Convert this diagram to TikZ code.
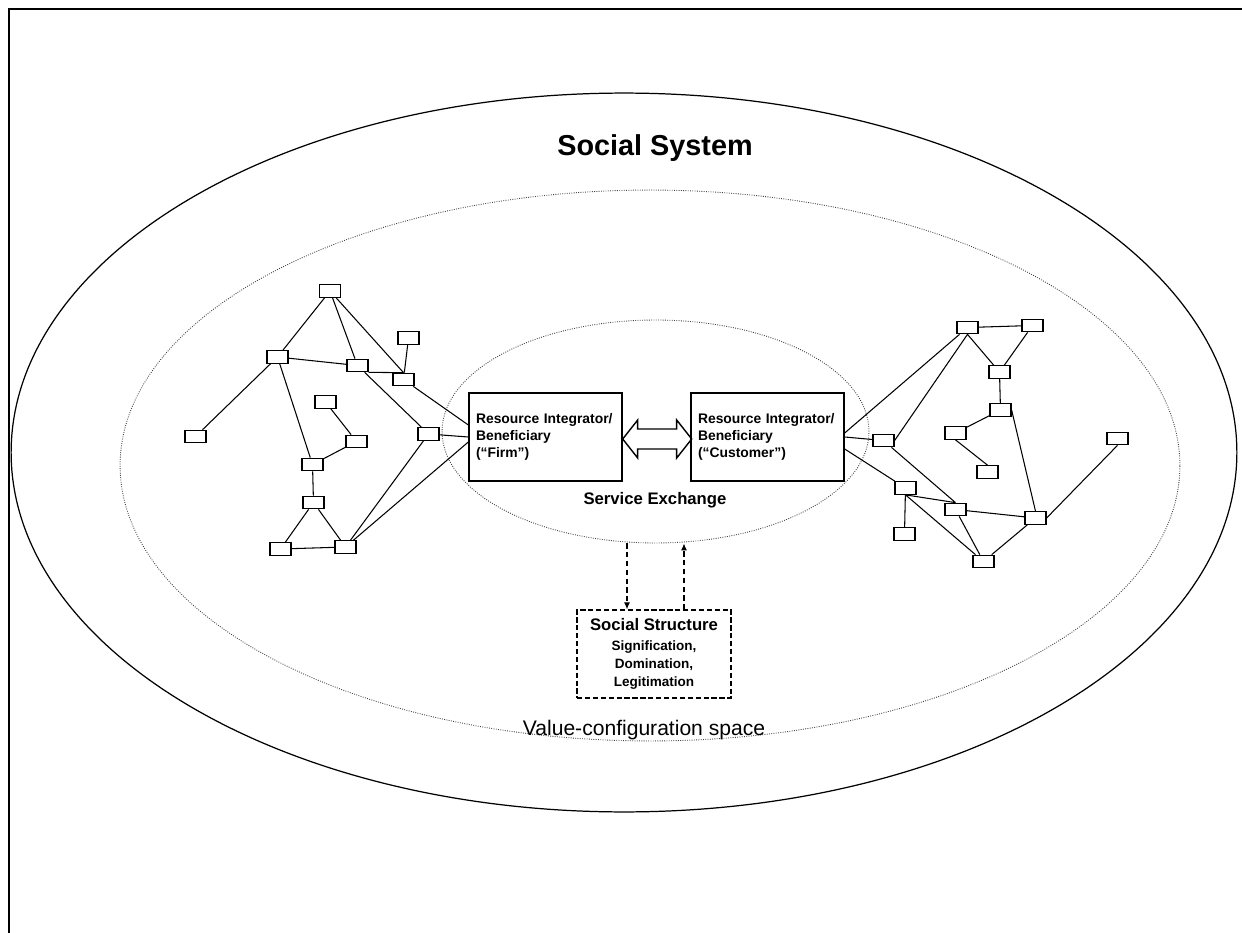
\documentclass[tikz,border=0pt]{standalone}
\usepackage{fontspec}
\setmainfont{Liberation Sans}
\usetikzlibrary{arrows.meta, calc, positioning, shapes.geometric}

\begin{document}
\begin{tikzpicture}[x=0.02cm, y=-0.02cm,
                    unit/.style={draw, line width=0.7pt, minimum width=0.42cm, minimum height=0.25cm, inner sep=0pt},
                    actor/.style={draw, line width=0.8pt, minimum width=3.06cm, minimum height=1.76cm, inner sep=0pt, text width=2.78cm, align=left, font=\bfseries\fontsize{7.9}{9.9}\selectfont},
                    ring/.style={draw, ellipse, inner sep=0pt, dash pattern=on 0.5pt off 0.8pt, line width=0.5pt, black!75},
                    link/.style={line width=0.6pt},
                    feed/.style={dash pattern=on 3pt off 2pt, line width=0.7pt, -{Latex[length=4pt,width=3.5pt]}}]
                    \useasboundingbox (0, 0) rectangle (1242, 933);
                    \draw[line width=1.1pt] (9, 933) -- (9, 9) -- (1242, 9);

                    \node[draw, ellipse, inner sep=0pt, line width=0.7pt, minimum width=24.52cm, minimum height=14.38cm] (sys) at (624, 452.5) {};
                    \node[ring, minimum width=21.2cm, minimum height=11.02cm] (vcs) at (650, 465.5) {};
                    \node[ring, minimum width=8.54cm, minimum height=4.46cm] (exch) at (655.5, 431.5) {};

                    \node[font=\bfseries\fontsize{16.4}{20}\selectfont] (systitle) at (655, 148) {Social System};
                    \node[font=\fontsize{12}{14}\selectfont] (vcstitle) at (644, 730) {Value-configuration space};

                    \node[actor] (firm) at (545.5, 437) {Resource Integrator/\\Beneficiary\\(``Firm'')};
                    \node[actor] (cust) at (767.5, 437) {Resource Integrator/\\Beneficiary\\(``Customer'')};
                    \node[font=\bfseries\fontsize{9.5}{11}\selectfont] (exchtitle) at (655, 500) {Service Exchange};

                    \draw[line width=0.8pt, line join=miter]
                    ($(firm.east)+(0, 2)$) -- ++(15, -19) -- ++(0, 9) -- ++(39, 0) -- ++(0, -9) -- ++(15, 19)
                    -- ++(-15, 19) -- ++(0, -9) -- ++(-39, 0) -- ++(0, 9) -- cycle;

                    \node[draw, line width=0.7pt, dash pattern=on 3pt off 1.5pt, minimum width=3.08cm, minimum height=1.76cm, align=center, inner sep=0pt,
                    font=\bfseries\fontsize{7.7}{10.2}\selectfont] (sstruct) at (654, 654)
                    {{\fontsize{9.5}{11}\selectfont Social Structure}\\[1pt]Signification,\\Domination,\\Legitimation};

                    \coordinate (ssl) at ($(sstruct.north)+(-27, 0)$);
                    \coordinate (ssr) at ($(sstruct.north)+(30, 0)$);
                    \draw[feed] (ssl |- exch.south) -- (ssl);
                    \draw[feed] (ssr) -- (ssr |- exch.south);

                    \node[unit] (l1) at (330, 291) {};
                    \node[unit] (l2) at (277.5, 357) {};
                    \node[unit] (l3) at (357.5, 365.5) {};
                    \node[unit] (l4) at (408.5, 338) {};
                    \node[unit] (l5) at (403.5, 379.5) {};
                    \node[unit] (l6) at (195.5, 436.5) {};
                    \node[unit] (l7) at (325.5, 402) {};
                    \node[unit] (l8) at (356.5, 441.5) {};
                    \node[unit] (l9) at (428.5, 434) {};
                    \node[unit] (l10) at (312.5, 464.5) {};
                    \node[unit] (l11) at (313.5, 502.5) {};
                    \node[unit] (l12) at (280.5, 549) {};
                    \node[unit] (l13) at (345.5, 547) {};

                    \node[unit] (r1) at (967.5, 327.5) {};
                    \node[unit] (r2) at (1032.5, 325.5) {};
                    \node[unit] (r3) at (999.5, 372) {};
                    \node[unit] (r4) at (1000.5, 410) {};
                    \node[unit] (r5) at (955.5, 433) {};
                    \node[unit] (r6) at (987.5, 472) {};
                    \node[unit] (r7) at (883.5, 440.5) {};
                    \node[unit] (r8) at (905.5, 488) {};
                    \node[unit] (r9) at (904.5, 534) {};
                    \node[unit] (r10) at (955.5, 509.5) {};
                    \node[unit] (r11) at (1035.5, 518) {};
                    \node[unit] (r12) at (983.5, 561.5) {};
                    \node[unit] (r13) at (1117.5, 438.5) {};

                    \draw[link]
                    (l1) -- (l2) (l1) -- (l3) (l1) -- (l5.north) (l2) -- (l3) (l3.south east) -- (l5.north) (l4) -- (l5)
                    (l5) -- ($(firm.west)+(0, -12)$) (l2) -- (l6) (l2) -- (l10) (l3) -- (l9) (l9) -- (firm.west)
                    (l7) -- (l8) (l8) -- (l10) (l10) -- (l11) (l11) -- (l12) (l11) -- (l13) (l12) -- (l13)
                    (l13) -- (l9) (l13) -- ($(firm.west)+(0, 5)$);
                    \draw[link]
                    ($(cust.east)+(0, -4)$) -- (r1) (cust.east) -- (r7) ($(cust.east)+(0, 12)$) -- (r8)
                    (r7.east) -- (r1.south) (r1) -- (r2) (r1.south) -- (r3) (r2) -- (r3) (r3) -- (r4) (r4) -- (r5)
                    (r5.south) -- (r6.north) (r4.east) -- (r11.north) (r7) -- (r10.north) (r8.south) -- (r10.north)
                    (r8.south) -- (r12) (r9) -- (r8) (r10) -- (r11) (r10) -- (r12) (r12) -- (r11) (r11.east) -- (r13.south);
                \end{tikzpicture}
\end{document}
